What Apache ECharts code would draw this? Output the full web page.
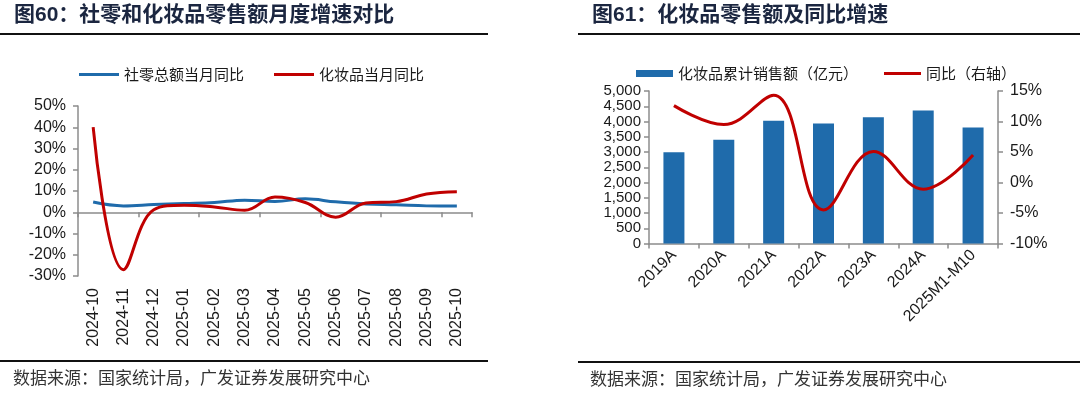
<!DOCTYPE html>
<html><head><meta charset="utf-8">
<script src="https://cdn.jsdelivr.net/npm/echarts@6/dist/echarts.min.js"></script>
<style>html,body{margin:0;padding:0;background:#fff}#c{width:1080px;height:399px}</style>
</head><body><div id="c"></div>
<script>
// Left chart: monthly YoY growth (%)
const months = ['2024-10','2024-11','2024-12','2025-01','2025-02','2025-03','2025-04','2025-05','2025-06','2025-07','2025-08','2025-09','2025-10'];
const retailYoY = [4.8, 3.0, 3.6, 4.1, 4.6, 5.7, 5.1, 6.3, 4.9, 3.9, 3.5, 3.0, 2.9];
const cosmeticsYoY = [40.1, -27.0, 1.2, 3.3, 2.5, 0.9, 7.2, 4.6, -2.3, 4.4, 5.0, 8.6, 9.7];
const leftYTicks = {min: -30, max: 50, interval: 10};

// Right chart: annual cosmetics retail sales (100m CNY) and YoY (%)
const years = ['2019A','2020A','2021A','2022A','2023A','2024A','2025M1-M10'];
const cosmeticsSales = [2992, 3400, 4026, 3936, 4142, 4357, 3800];
const cosmeticsSalesYoY = [12.6, 9.5, 14.3, -4.5, 5.1, -1.1, 4.5];
const rightLeftTicks = {min: 0, max: 5000, interval: 500};
const rightRightTicks = {min: -10, max: 15, interval: 5};

const NUM = "'Liberation Sans', Arial, sans-serif";
const CJK = "'Noto Sans CJK SC', sans-serif";
const TXT = '#1a1a1a';
const AX = '#8c8c8c';
const BLUE = '#1f6bab';
const RED = '#c00000';

const chart = echarts.init(document.getElementById('c'), null, {renderer: 'canvas'});
const axisCommon = {
  axisLine: {show: true, lineStyle: {color: AX, width: 1.5}},
  axisTick: {show: true, length: 5, lineStyle: {color: AX, width: 1.5}},
  splitLine: {show: false}
};
chart.setOption({
  animation: false,
  textStyle: {fontFamily: NUM},
  grid: [
    {left: 78, top: 106, width: 394, height: 170},
    {left: 649, top: 91, width: 349, height: 152.5}
  ],
  legend: [
    {left: 74, top: 62, itemWidth: 40, itemHeight: 3, itemGap: 30, icon: 'rect',
     textStyle: {fontFamily: CJK, fontSize: 15, color: TXT},
     data: ['社零总额当月同比', '化妆品当月同比']},
    {left: 631, top: 61, itemWidth: 37, itemHeight: 7, itemGap: 26,
     textStyle: {fontFamily: CJK, fontSize: 15, color: TXT},
     data: [{name: '化妆品累计销售额（亿元）', icon: 'rect'}, {name: '同比（右轴）', icon: 'path://M0,0h40v3h-40z'}]}
  ],
  xAxis: [
    Object.assign({}, axisCommon, {type: 'category', gridIndex: 0, data: months,
      axisLine: {show: true, onZero: true, lineStyle: {color: AX, width: 1.5}},
      axisLabel: {show: false}}),
    {type: 'category', gridIndex: 0, data: months, position: 'bottom',
      axisLine: {show: false, onZero: false}, axisTick: {show: false}, splitLine: {show: false},
      axisLabel: {rotate: 90, fontSize: 16, color: TXT, margin: 12, fontFamily: NUM}},
    Object.assign({}, axisCommon, {type: 'category', gridIndex: 1, data: years,
      axisLabel: {rotate: 45, fontSize: 16, color: TXT, margin: 9, fontFamily: NUM, interval: 0}})
  ],
  yAxis: [
    Object.assign({}, axisCommon, {type: 'value', gridIndex: 0,
      min: leftYTicks.min, max: leftYTicks.max, interval: leftYTicks.interval,
      axisLabel: {formatter: '{value}%', fontSize: 16, color: TXT, margin: 12, fontFamily: NUM}}),
    Object.assign({}, axisCommon, {type: 'value', gridIndex: 1, position: 'left',
      min: rightLeftTicks.min, max: rightLeftTicks.max, interval: rightLeftTicks.interval,
      axisLabel: {formatter: v => v.toLocaleString('en-US'), fontSize: 15, lineHeight: 14, color: TXT, margin: 8, fontFamily: NUM,
        showMinLabel: true, showMaxLabel: true, hideOverlap: false}}),
    Object.assign({}, axisCommon, {type: 'value', gridIndex: 1, position: 'right',
      min: rightRightTicks.min, max: rightRightTicks.max, interval: rightRightTicks.interval,
      axisLabel: {formatter: '{value}%', fontSize: 16, color: TXT, margin: 12, fontFamily: NUM}})
  ],
  series: [
    {name: '社零总额当月同比', type: 'line', xAxisIndex: 0, yAxisIndex: 0, data: retailYoY,
     smooth: 0.4, symbol: 'none', lineStyle: {color: BLUE, width: 3}, itemStyle: {color: BLUE}},
    {name: '化妆品当月同比', type: 'line', xAxisIndex: 0, yAxisIndex: 0, data: cosmeticsYoY,
     smooth: 0.4, symbol: 'none', lineStyle: {color: RED, width: 3}, itemStyle: {color: RED}},
    {name: '化妆品累计销售额（亿元）', type: 'bar', xAxisIndex: 2, yAxisIndex: 1, data: cosmeticsSales,
     barWidth: 21, itemStyle: {color: BLUE}},
    {name: '同比（右轴）', type: 'line', xAxisIndex: 2, yAxisIndex: 2, data: cosmeticsSalesYoY,
     smooth: 0.4, symbol: 'none', lineStyle: {color: RED, width: 3}, itemStyle: {color: RED}}
  ],
  graphic: [
    {type: 'text', left: 14, top: 5, style: {text: '图60：社零和化妆品零售额月度增速对比', fontSize: 21, fontWeight: 'bold', fontFamily: "'Liberation Sans','Noto Sans CJK SC',sans-serif", fill: '#1b2640'}},
    {type: 'text', left: 592, top: 5, style: {text: '图61：化妆品零售额及同比增速', fontSize: 21, fontWeight: 'bold', fontFamily: "'Liberation Sans','Noto Sans CJK SC',sans-serif", fill: '#1b2640'}},
    {type: 'line', shape: {x1: 0, y1: 34, x2: 488, y2: 34}, style: {stroke: '#111', lineWidth: 2}},
    {type: 'line', shape: {x1: 578, y1: 34, x2: 1080, y2: 34}, style: {stroke: '#111', lineWidth: 2}},
    {type: 'line', shape: {x1: 0, y1: 361, x2: 488, y2: 361}, style: {stroke: '#111', lineWidth: 2}},
    {type: 'line', shape: {x1: 578, y1: 362, x2: 1080, y2: 362}, style: {stroke: '#111', lineWidth: 2}},
    {type: 'text', left: 13, top: 369, style: {text: '数据来源：国家统计局，广发证券发展研究中心', fontSize: 17, fontFamily: CJK, fill: '#333'}},
    {type: 'text', left: 590, top: 370, style: {text: '数据来源：国家统计局，广发证券发展研究中心', fontSize: 17, fontFamily: CJK, fill: '#333'}}
  ]
});
</script></body></html>
